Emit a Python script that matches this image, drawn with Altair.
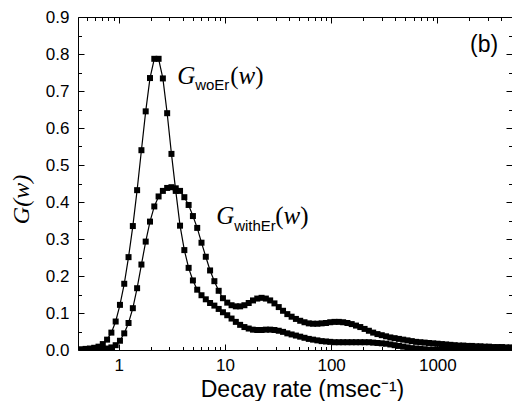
import altair as alt
import pandas as pd

# decay rate grid (msec^-1)
rate = [0.4449, 0.4883, 0.5359, 0.5882, 0.6457, 0.7085, 0.7776, 0.8535, 0.9367,
        1.028, 1.128, 1.238, 1.359, 1.491, 1.637, 1.796, 1.971, 2.164, 2.375, 2.606, 2.860, 3.139, 3.445, 3.781,
        4.150, 4.554, 4.998, 5.486, 6.020, 6.607, 7.251, 7.958, 8.734, 9.585,
        10.52, 11.55, 12.67, 13.91, 15.26, 16.75, 18.38, 20.17, 22.14, 24.30, 26.67, 29.27, 32.12, 35.25, 38.69,
        42.46, 46.60, 51.14, 56.13, 61.60, 67.61, 74.20, 81.43, 89.37, 98.08,
        107.6, 118.1, 129.7, 142.3, 156.2, 171.4, 188.1, 206.5, 226.6, 248.7, 272.9, 299.6, 328.8, 360.8, 396.0,
        434.5, 476.9, 523.4, 574.4, 630.4, 691.8, 759.3, 833.3, 914.5, 1004,
        1102, 1209, 1327, 1456, 1598, 1754, 1925, 2113, 2319, 2545, 2793, 3065, 3364, 3692, 4052, 4447, 4880, 5356]

g_woer = [0.002, 0.003, 0.004, 0.006, 0.009, 0.016, 0.028, 0.047, 0.077,
          0.122, 0.179, 0.251, 0.335, 0.432, 0.540, 0.645, 0.735, 0.787, 0.787, 0.734, 0.640, 0.530, 0.430, 0.336,
          0.270, 0.222, 0.188, 0.163, 0.148, 0.137, 0.127, 0.120, 0.111, 0.102,
          0.094, 0.085, 0.076, 0.068, 0.062, 0.058, 0.055, 0.054, 0.054, 0.055, 0.055, 0.054, 0.052, 0.049, 0.045,
          0.042, 0.039, 0.036, 0.033, 0.030, 0.028, 0.026, 0.024, 0.023, 0.022,
          0.021, 0.021, 0.021, 0.021, 0.021, 0.021, 0.021, 0.021, 0.021, 0.020, 0.019, 0.018, 0.017, 0.015, 0.013,
          0.011, 0.009, 0.007, 0.005, 0.004, 0.003, 0.002, 0.001, 0.001, 0.001,
          0.001, 0.001, 0.001, 0.001, 0.001, 0.001, 0.000, 0.000, 0.000, 0.000, 0.000, 0.000, 0.000, 0.000, 0.000,
          0.000, 0.000, 0.000]

g_wither = [0.000, 0.000, 0.001, 0.001, 0.002, 0.003, 0.004, 0.007, 0.013,
            0.025, 0.045, 0.073, 0.113, 0.167, 0.231, 0.293, 0.347, 0.388, 0.415, 0.430, 0.438, 0.440, 0.437, 0.430,
            0.413, 0.392, 0.362, 0.330, 0.290, 0.252, 0.215, 0.186, 0.160, 0.140,
            0.128, 0.121, 0.118, 0.118, 0.121, 0.127, 0.134, 0.139, 0.141, 0.139, 0.134, 0.126, 0.116, 0.106, 0.097,
            0.090, 0.084, 0.079, 0.075, 0.072, 0.071, 0.071, 0.072, 0.073, 0.075,
            0.076, 0.076, 0.075, 0.073, 0.070, 0.066, 0.062, 0.057, 0.052, 0.047, 0.043, 0.040, 0.037, 0.034, 0.032,
            0.030, 0.028, 0.026, 0.024, 0.022, 0.021, 0.020, 0.019, 0.018, 0.017,
            0.016, 0.015, 0.014, 0.013, 0.012, 0.012, 0.011, 0.011, 0.010, 0.010, 0.009, 0.009, 0.008, 0.008, 0.008,
            0.007, 0.007, 0.007]

x_major = [1, 10, 100, 1000]
x_minor = [0.5, 0.6, 0.7, 0.8, 0.9, 2, 3, 4, 5, 6, 7, 8, 9, 20, 30, 40, 50, 60, 70, 80, 90,
           200, 300, 400, 500, 600, 700, 800, 900, 2000, 3000, 4000, 5000]
y_major = [0.0, 0.1, 0.2, 0.3, 0.4, 0.5, 0.6, 0.7, 0.8, 0.9]
y_minor = [0.05, 0.15, 0.25, 0.35, 0.45, 0.55, 0.65, 0.75, 0.85]

# annotation labels
lab_x = [3.55, 8.27]
lab_y = [0.720, 0.341]
lab_sub = ["woEr", "withEr"]
lab_paren_dx = [53, 59]
lab_sub_dy = [6, 7]

df = pd.DataFrame({
    "rate": rate + rate,
    "G": g_woer + g_wither,
    "series": ["woEr"] * len(rate) + ["withEr"] * len(rate),
})

W, H = 434, 333
xscale = alt.Scale(type="log", domain=[0.414, 5042], nice=False)
yscale = alt.Scale(domain=[0, 0.9], nice=False, zero=False)
SANS = "Liberation Sans"
SERIF = "Liberation Serif"

base = alt.Chart(df)

x_main = alt.X("rate:Q", scale=xscale, axis=alt.Axis(
    values=x_major, format="d", ticks=False, tickSize=0, domain=True, domainColor="black",
    domainWidth=1, labelFont=SANS, labelFontSize=17, labelColor="black", labelPadding=7,
    labelFlush=False, labelOverlap=False, grid=False,
    title="Decay rate (msec\u207b\u00b9)", titleFont=SANS, titleFontSize=23, titleFontWeight="normal",
    titleColor="black", titleY=46, titleX=224, titleBaseline="alphabetic", titleAlign="center"))
y_main = alt.Y("G:Q", scale=yscale, axis=alt.Axis(
    values=y_major, format=".1f", ticks=False, tickSize=0, domain=True, domainColor="black",
    domainWidth=1, labelFont=SANS, labelFontSize=17, labelColor="black", labelPadding=9,
    labelFlush=False, labelOverlap=False, grid=False,
    title="G(w)", titleFont=SERIF, titleFontStyle="italic", titleFontSize=24, titleFontWeight="normal",
    titleColor="black", titleAngle=270, titleX=-57, titleY=182, titleBaseline="middle", titleAlign="center"))

lines = base.mark_line(color="black", strokeWidth=1.2, clip=True).encode(
    x=x_main, y=y_main, detail="series:N")
points = base.mark_square(size=36, color="black", opacity=1, clip=True).encode(
    x=alt.X("rate:Q", scale=xscale, axis=None),
    y=alt.Y("G:Q", scale=yscale, axis=None),
    detail="series:N")


def tick_layer(xorient, yorient, xvals, yvals, size, top_domain):
    return base.mark_point(opacity=0).encode(
        x=alt.X("rate:Q", scale=xscale, axis=alt.Axis(
            orient=xorient, offset=-H, values=xvals, ticks=True, tickSize=size, tickColor="black",
            tickWidth=1, labels=False, domain=top_domain, domainColor="black", grid=False, title=None)),
        y=alt.Y("G:Q", scale=yscale, axis=alt.Axis(
            orient=yorient, offset=-W, values=yvals, ticks=True, tickSize=size, tickColor="black",
            tickWidth=1, labels=False, domain=False, grid=False, title=None)),
    )


t1 = tick_layer("top", "right", x_major, y_major, 6, False)
t2 = tick_layer("top", "right", x_minor, y_minor, 3.5, False)
t3 = tick_layer("bottom", "left", x_major, y_major, 6, True)
t4 = tick_layer("bottom", "left", x_minor, y_minor, 3.5, False)

text_layers = []
for i in range(2):
    d = pd.DataFrame({"x": [lab_x[i]], "y": [lab_y[i]], "sub": [lab_sub[i]]})
    b = alt.Chart(d)
    enc = dict(x=alt.X("x:Q", scale=xscale, axis=None), y=alt.Y("y:Q", scale=yscale, axis=None))
    text_layers.append(b.mark_text(text="G", align="left", baseline="alphabetic", font=SERIF,
                                   fontStyle="italic", fontSize=25, color="black").encode(**enc))
    text_layers.append(b.mark_text(align="left", baseline="alphabetic", font=SANS, fontSize=15,
                                   color="black", dx=18, dy=lab_sub_dy[i]).encode(text="sub:N", **enc))
    pdx = lab_paren_dx[i]
    text_layers.append(b.mark_text(text="(", align="left", baseline="alphabetic", font=SERIF,
                                   fontSize=25, color="black", dx=pdx).encode(**enc))
    text_layers.append(b.mark_text(text="w", align="left", baseline="alphabetic", font=SERIF,
                                   fontStyle="italic", fontSize=25, color="black", dx=pdx + 8.3).encode(**enc))
    text_layers.append(b.mark_text(text=")", align="left", baseline="alphabetic", font=SERIF,
                                   fontSize=25, color="black", dx=pdx + 25).encode(**enc))

panel = pd.DataFrame({"x": [2034], "y": [0.806], "t": ["(b)"]})
panel_text = alt.Chart(panel).mark_text(align="left", baseline="alphabetic", font=SANS, fontSize=23,
                                        color="black").encode(
    x=alt.X("x:Q", scale=xscale, axis=None), y=alt.Y("y:Q", scale=yscale, axis=None), text="t:N")

chart = alt.layer(lines, points, t1, t2, t3, t4, *text_layers, panel_text).resolve_axis(
    x="independent", y="independent"
).properties(
    width=W, height=H,
    padding={"left": 70, "top": 9, "right": 0, "bottom": 51},
    autosize=alt.AutoSizeParams(type="none"),
    background="white",
).configure_view(stroke=None)

chart.save("out.html", embed_options={"renderer": "svg", "actions": False})
